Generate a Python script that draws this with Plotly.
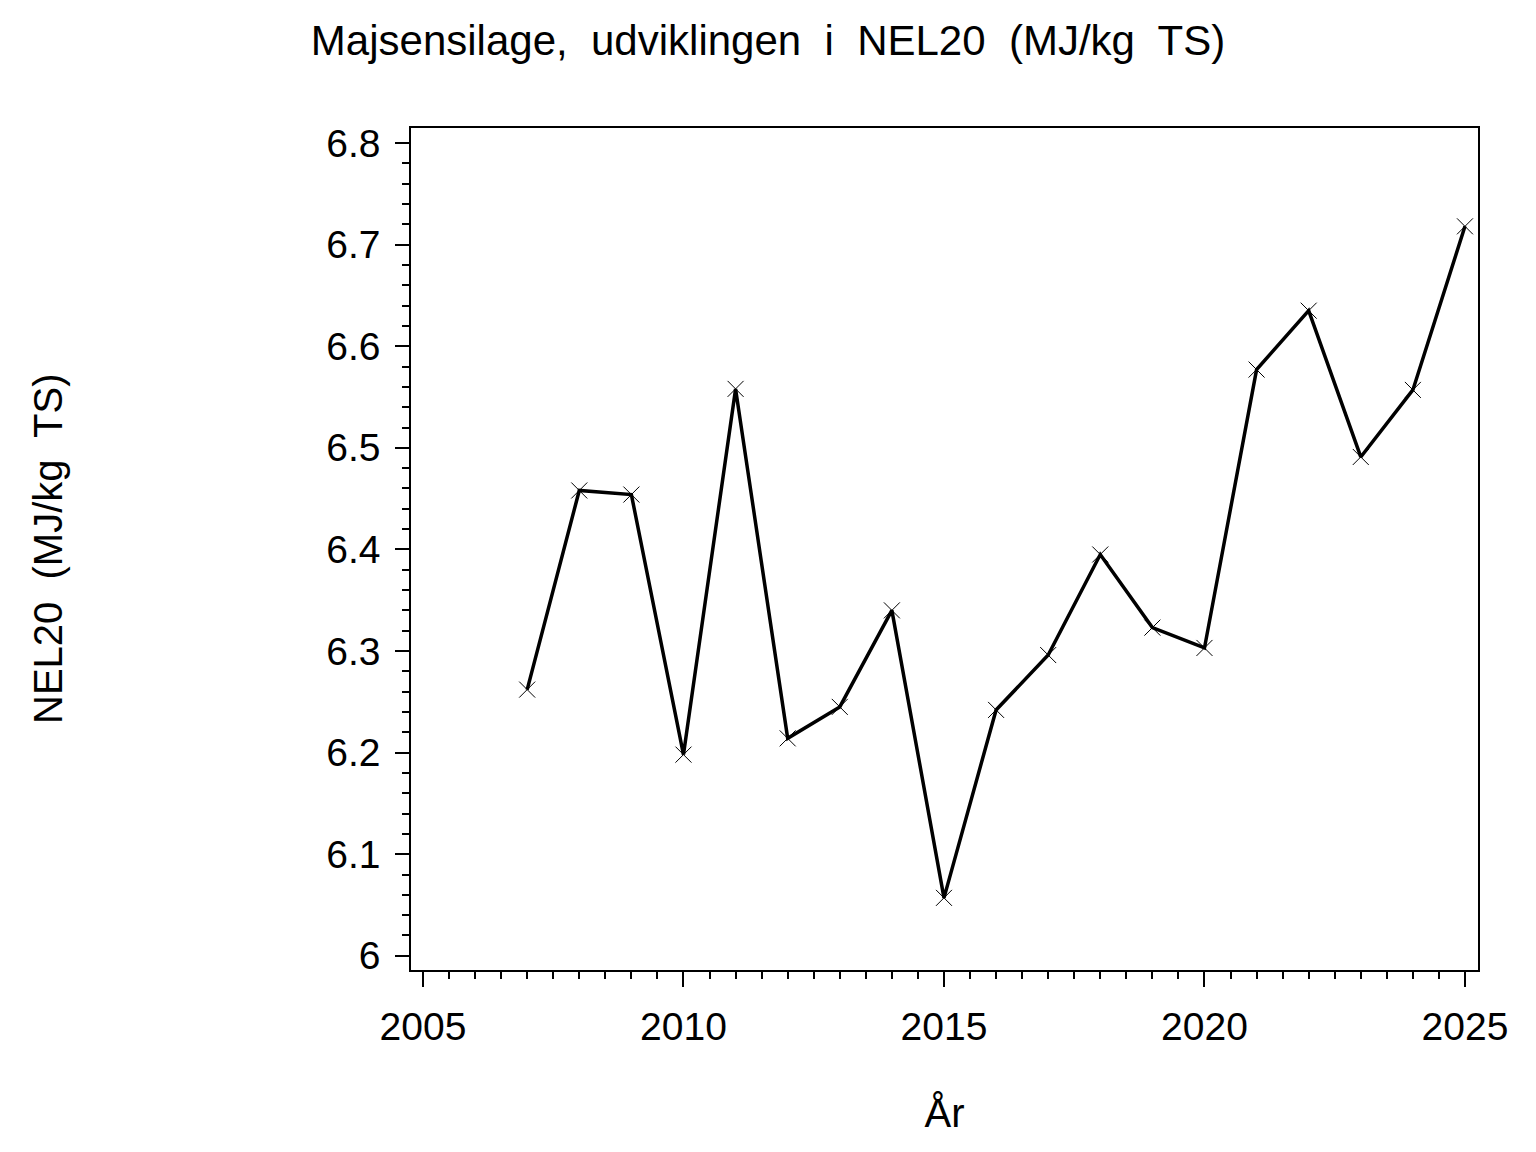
import plotly.graph_objects as go

years = [2007, 2008, 2009, 2010, 2011, 2012, 2013, 2014, 2015, 2016,
         2017, 2018, 2019, 2020, 2021, 2022, 2023, 2024, 2025]
nel20 = [6.262, 6.458, 6.454, 6.198, 6.558, 6.214, 6.245, 6.340, 6.057, 6.242,
         6.296, 6.395, 6.323, 6.303, 6.577, 6.635, 6.491, 6.557, 6.718]

title_text = "Majsensilage,\u00a0 udviklingen\u00a0 i\u00a0 NEL20\u00a0 (MJ/kg\u00a0 TS)"
y_title = "NEL20\u00a0 (MJ/kg\u00a0 TS)"
x_title = "År"

FONT = "Liberation Sans, Arial, sans-serif"

# page has an 8px body margin -> figure drawn at (8, 8)
W, H = 1520, 1136
L, T, R, B = 403, 120, 50, 174
plot_w = W - L - R

fig = go.Figure()
fig.add_trace(go.Scatter(
    x=years, y=nel20, mode="lines+markers",
    line=dict(color="black", width=3.5),
    marker=dict(symbol="x-thin", size=16, color="black",
                line=dict(width=1, color="black")),
    showlegend=False,
))

fig.update_layout(
    width=W, height=H,
    paper_bgcolor="white", plot_bgcolor="white",
    margin=dict(l=L, r=R, t=T, b=B),
    font=dict(family=FONT, size=40, color="black"),
    title=dict(text=title_text, x=0.5, xanchor="center", xref="container",
               y=1 - 32 / H, yanchor="middle", yref="container",
               font=dict(size=42, family=FONT, color="black")),
    annotations=[dict(
        text=y_title, textangle=-90, showarrow=False,
        xref="paper", yref="paper",
        x=(40 - L) / plot_w, y=0.5, xanchor="center", yanchor="middle",
        font=dict(size=40, family=FONT, color="black"),
    )],
)

fig.update_xaxes(
    range=[2004.77, 2025.25], tickmode="linear", tick0=2005, dtick=5,
    showline=True, linecolor="black", linewidth=1.5, mirror=True,
    ticks="outside", ticklen=15, tickwidth=1.5, tickcolor="black",
    minor=dict(ticks="outside", dtick=0.5, tick0=2005, ticklen=7,
               tickwidth=1.5, tickcolor="black", showgrid=False),
    showgrid=False, zeroline=False,
    tickfont=dict(size=39, family=FONT, color="black"),
    ticklabelstandoff=6,
    title=dict(text=x_title, font=dict(size=40, family=FONT, color="black"),
               standoff=52),
)

fig.update_yaxes(
    range=[5.986, 6.8148], tickmode="array",
    tickvals=[6.0, 6.1, 6.2, 6.3, 6.4, 6.5, 6.6, 6.7, 6.8],
    ticktext=["6", "6.1", "6.2", "6.3", "6.4", "6.5", "6.6", "6.7", "6.8"],
    showline=True, linecolor="black", linewidth=1.5, mirror=True,
    ticks="outside", ticklen=14, tickwidth=1.5, tickcolor="black",
    minor=dict(ticks="outside", dtick=0.02, tick0=6.0, ticklen=7,
               tickwidth=1.5, tickcolor="black", showgrid=False),
    showgrid=False, zeroline=False,
    tickfont=dict(size=39, family=FONT, color="black"),
    ticklabelstandoff=7,
)

fig.write_html("out.html")
